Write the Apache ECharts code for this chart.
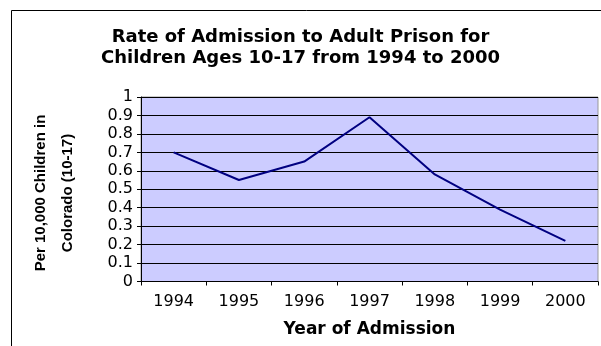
<!DOCTYPE html>
<html><head><meta charset="utf-8">
<script src="https://cdn.jsdelivr.net/npm/echarts@6/dist/echarts.min.js"></script>
<style>html,body{margin:0;padding:0;background:#fff}#c{width:601px;height:346px}</style>
</head><body><div id="c"></div>
<script>
const categories = ['1994','1995','1996','1997','1998','1999','2000'];
const rates = [0.70, 0.55, 0.65, 0.89, 0.58, 0.39, 0.22];
const yTicks = [0, 0.1, 0.2, 0.3, 0.4, 0.5, 0.6, 0.7, 0.8, 0.9, 1];
const titleText = 'Rate of Admission to Adult Prison for\nChildren Ages 10-17 from 1994 to 2000';
const yName = 'Per 10,000 Children in\nColorado (10-17)';
const xName = 'Year of Admission';

const chart = echarts.init(document.getElementById('c'), null, {renderer:'canvas'});
chart.setOption({
  animation:false,
  backgroundColor:'#fff',
  title:{text:titleText,left:'center',top:22,
    textStyle:{fontFamily:'DejaVu Sans',fontWeight:'bold',fontSize:18,lineHeight:21,color:'#000'}},
  graphic:[
    {type:'rect',shape:{x:11.5,y:10.5,width:700,height:500},style:{fill:null,stroke:'#000',lineWidth:1},z:-1},
    {type:'text',x:54,y:193,rotation:Math.PI/2,
     style:{text:yName,font:'bold 15px "Liberation Sans Narrow", "Liberation Sans", Arial',fill:'#000',
       align:'center',verticalAlign:'middle',textAlign:'center',textVerticalAlign:'middle',lineHeight:27}}
  ],
  grid:{left:141,top:97,width:457,height:184.5,show:true,backgroundColor:'#CCCCFF',borderColor:'#999',borderWidth:1},
  xAxis:{type:'category',data:categories,boundaryGap:true,
    name:xName,nameLocation:'middle',nameGap:40,
    nameTextStyle:{fontFamily:'DejaVu Sans',fontWeight:'bold',fontSize:17,color:'#000'},
    axisLine:{lineStyle:{color:'#000',width:1}},
    axisTick:{show:true,alignWithLabel:false,length:4,lineStyle:{color:'#000'}},
    axisLabel:{fontFamily:'DejaVu Sans',fontSize:16,color:'#000',margin:12},
    splitLine:{show:false}},
  yAxis:{type:'value',min:0,max:1,interval:0.1,
    axisLine:{show:true,lineStyle:{color:'#000',width:1}},
    axisTick:{show:true,length:4,lineStyle:{color:'#000'}},
    axisLabel:{fontFamily:'DejaVu Sans',fontSize:16,color:'#000',margin:8,
      formatter:v=>{const t=yTicks.find(k=>Math.abs(k-v)<1e-9);return t===undefined?'':String(t);}},
    splitLine:{show:true,lineStyle:{color:'#000',width:1}}},
  series:[{type:'line',data:rates,symbol:'none',lineStyle:{color:'#000080',width:2},itemStyle:{color:'#000080'}}]
});
</script></body></html>
